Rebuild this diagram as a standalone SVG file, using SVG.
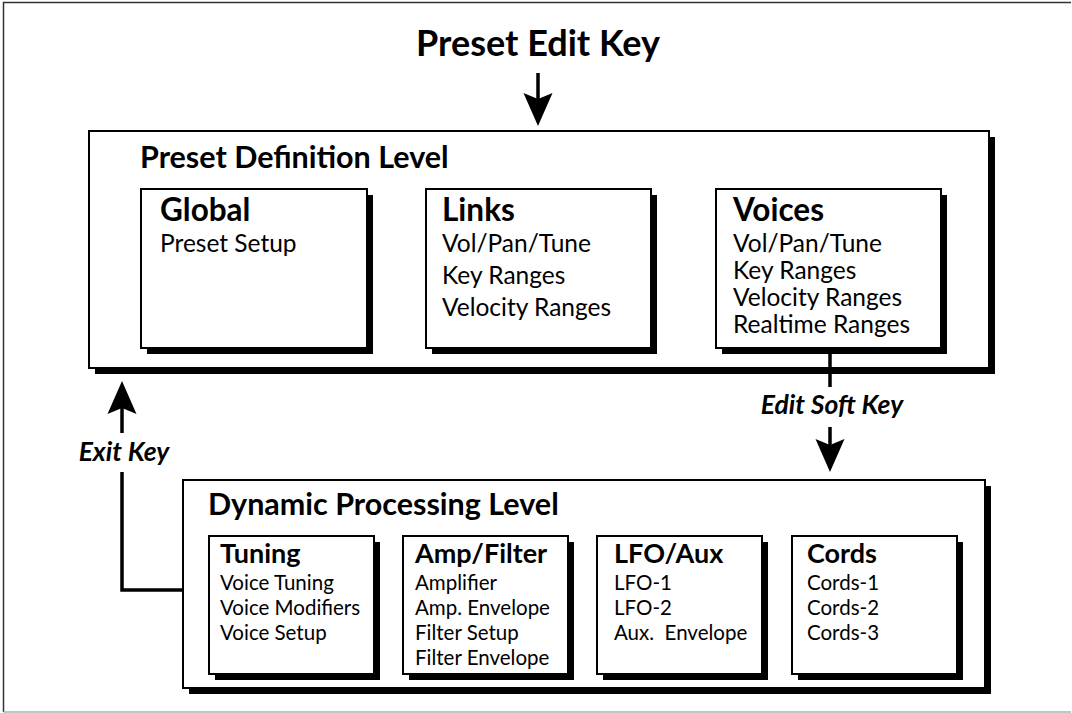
<svg xmlns="http://www.w3.org/2000/svg" width="1072" height="713" viewBox="0 0 1072 713">
<defs>
<style>
text{font-family:Lato,"Noto Sans","Liberation Sans",sans-serif;fill:#000}
.big{font-size:36px;font-weight:700}
.lvl{font-size:30.5px;font-weight:700}
.ttl{font-size:31.5px;font-weight:700}
.itm{font-size:24.5px}
.dttl{font-size:27px;font-weight:700}
.ditm{font-size:20.5px}
.lbl{font-size:26.5px;font-weight:700;font-style:italic}
.box{fill:#fff;stroke:#000;stroke-width:2}
.shd{fill:#000}
.ln{fill:none;stroke:#000;stroke-width:3.5}
</style>
<marker id="ah" markerUnits="userSpaceOnUse" viewBox="-7 -16 36 32" refX="0" refY="0" markerWidth="36" markerHeight="32" orient="auto">
<path d="M27,0 L-6,-14.5 L0,0 L-6,14.5 Z" fill="#000"/>
</marker>
</defs>
<rect x="0" y="0" width="1072" height="713" fill="#fff"/>
<path d="M3.5,712 V2.5 H1071" fill="none" stroke="#333" stroke-width="1.5"/>
<path d="M3.5,712 H1071" fill="none" stroke="#b0b0b0" stroke-width="1.5"/>

<text class="big" x="538" y="56" text-anchor="middle">Preset Edit Key</text>

<g id="preset-definition-level">
<rect class="shd" x="95" y="137" width="900" height="237"/>
<rect class="box" x="89" y="131" width="900" height="237"/>
<text class="lvl" x="140" y="168">Preset Definition Level</text>
</g>
<g id="global">
<rect class="shd" x="147" y="195" width="226" height="159"/>
<rect class="box" x="141" y="189" width="226" height="159"/>
<text class="ttl" x="160" y="221">Global</text>
<text class="itm" x="160" y="252">Preset Setup</text>
</g>
<g id="links">
<rect class="shd" x="432" y="195" width="225" height="159"/>
<rect class="box" x="426" y="189" width="225" height="159"/>
<text class="ttl" x="442" y="221">Links</text>
<text class="itm" x="442" y="252">Vol/Pan/Tune</text>
<text class="itm" x="442" y="284">Key Ranges</text>
<text class="itm" x="442" y="316">Velocity Ranges</text>
</g>
<g id="voices">
<rect class="shd" x="722" y="195" width="225" height="159"/>
<rect class="box" x="716" y="189" width="225" height="159"/>
<text class="ttl" x="733" y="221">Voices</text>
<text class="itm" x="733" y="252">Vol/Pan/Tune</text>
<text class="itm" x="733" y="279">Key Ranges</text>
<text class="itm" x="733" y="306">Velocity Ranges</text>
<text class="itm" x="733" y="333">Realtime Ranges</text>
</g>

<g id="dynamic-processing-level">
<rect class="shd" x="189" y="486" width="802" height="208"/>
<rect class="box" x="183" y="480" width="802" height="208"/>
<text class="lvl" x="208" y="515">Dynamic Processing Level</text>
</g>
<g id="tuning">
<rect class="shd" x="215" y="542" width="165" height="138"/>
<rect class="box" x="209" y="536" width="165" height="138"/>
<text class="dttl" x="220" y="563">Tuning</text>
<text class="ditm" x="220" y="590">Voice Tuning</text>
<text class="ditm" x="220" y="615">Voice Modifiers</text>
<text class="ditm" x="220" y="640">Voice Setup</text>
</g>
<g id="amp-filter">
<rect class="shd" x="409" y="542" width="165" height="138"/>
<rect class="box" x="403" y="536" width="165" height="138"/>
<text class="dttl" x="415" y="563">Amp/Filter</text>
<text class="ditm" x="415" y="590">Amplifier</text>
<text class="ditm" x="415" y="615">Amp. Envelope</text>
<text class="ditm" x="415" y="640">Filter Setup</text>
<text class="ditm" x="415" y="665">Filter Envelope</text>
</g>
<g id="lfo-aux">
<rect class="shd" x="603" y="542" width="165" height="138"/>
<rect class="box" x="597" y="536" width="165" height="138"/>
<text class="dttl" x="614" y="563">LFO/Aux</text>
<text class="ditm" x="614" y="590">LFO-1</text>
<text class="ditm" x="614" y="615">LFO-2</text>
<text class="ditm" x="614" y="640" xml:space="preserve">Aux.  Envelope</text>
</g>
<g id="cords">
<rect class="shd" x="798" y="542" width="165" height="138"/>
<rect class="box" x="792" y="536" width="165" height="138"/>
<text class="dttl" x="807" y="563">Cords</text>
<text class="ditm" x="807" y="590">Cords-1</text>
<text class="ditm" x="807" y="615">Cords-2</text>
<text class="ditm" x="807" y="640">Cords-3</text>
</g>

<g id="connectors">
<line class="ln" x1="538" y1="73" x2="538" y2="99" marker-end="url(#ah)"/>
<line class="ln" x1="830" y1="348" x2="830" y2="387"/>
<line class="ln" x1="830" y1="427" x2="830" y2="445" marker-end="url(#ah)"/>
<text class="lbl" x="832" y="414" text-anchor="middle">Edit Soft Key</text>
<polyline class="ln" points="183,590 122,590 122,472"/>
<line class="ln" x1="122" y1="433" x2="122" y2="408" marker-end="url(#ah)"/>
<text class="lbl" x="124" y="461" text-anchor="middle">Exit Key</text>
</g>
</svg>
